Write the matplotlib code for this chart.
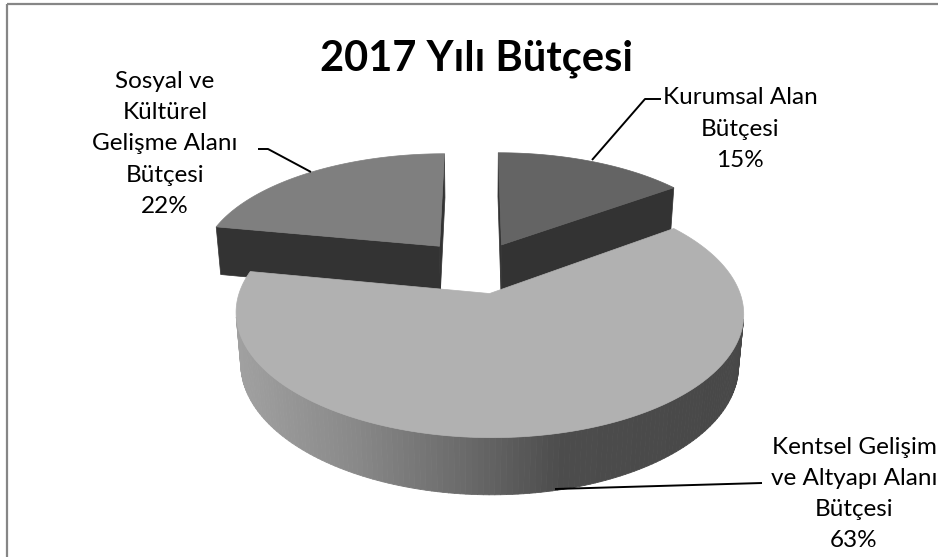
import numpy as np
import matplotlib.pyplot as plt
from matplotlib.patches import Polygon, Rectangle
from matplotlib.collections import PolyCollection

plt.rcParams['font.family'] = ['Lato', 'DejaVu Sans']

# slices, clockwise from 12 o'clock
names = ['Kurumsal Alan\nBütçesi',
         'Kentsel Gelişim\nve Altyapı Alanı\nBütçesi',
         'Sosyal ve\nKültürel\nGelişme Alanı\nBütçesi']
shares = [15, 63, 22]

top_colors = ['#646464', '#b1b1b1', '#7f7f7f']
cut_color = '#333333'
explode = [0.23, 0.23, 0.25]

# label / leader line placement (pixels)
label_xy = [(740, 129), (854, 494), (165, 144)]
leaders = [[(661, 99), (645, 99), (592, 160)],
           [(762, 483), (555, 489)],
           [(258, 149), (268, 149), (311, 172)]]

# fake 3d camera
alpha = np.radians(28.4)
s, c = np.sin(alpha), np.cos(alpha)
D, f, kx = 5.8, 1442.0, 0.955
h = 0.223
X0, Y0 = 477, 317
cam = np.array([0.0, -D * c, D * s])


def proj(u, v, z):
    u, v, z = np.asarray(u, float), np.asarray(v, float), np.asarray(z, float)
    dep = D + v * c - z * s
    return X0 + kx * f * u / dep, Y0 - f * (v * s + z * c) / dep


def side_grey(x):
    # horizontal shading on the rim
    g = np.interp(x, [236, 350, 470, 560, 743], [0.63, 0.54, 0.41, 0.30, 0.28])
    return (g, g, g)


def visible(p, n):
    return np.dot(cam - p, n) > 0


fig, ax = plt.subplots(figsize=(9.38, 5.57), dpi=100)
ax.set_position([0, 0, 1, 1])
ax.set_xlim(0, 938)
ax.set_ylim(557, 0)
ax.axis('off')

cum = np.concatenate([[0], np.cumsum(shares)])
slices = []
for i, sh in enumerate(shares):
    a = np.radians(90 - 3.6 * cum[i])
    b = np.radians(90 - 3.6 * cum[i + 1])
    m = (a + b) / 2
    ou, ov = explode[i] * np.cos(m), explode[i] * np.sin(m)
    slices.append((i, a, b, ou, ov))

# far slices first
for i, a, b, ou, ov in sorted(slices, key=lambda t: -t[4]):
    th = np.linspace(a, b, 200)
    u = ou + np.cos(th)
    v = ov + np.sin(th)

    # outer rim
    polys, cols = [], []
    for j in range(len(th) - 1):
        tm = (th[j] + th[j + 1]) / 2
        p = np.array([ou + np.cos(tm), ov + np.sin(tm), h / 2])
        if not visible(p, np.array([np.cos(tm), np.sin(tm), 0])):
            continue
        xt, yt = proj(u[j:j + 2], v[j:j + 2], [h, h])
        xb, yb = proj(u[j:j + 2], v[j:j + 2], [0, 0])
        polys.append([(xt[0], yt[0]), (xt[1], yt[1]), (xb[1], yb[1]), (xb[0], yb[0])])
        cols.append(side_grey(xt.mean()))
    if polys:
        ax.add_collection(PolyCollection(polys, facecolors=cols, edgecolors=cols,
                                         linewidths=0.6, antialiased=True))

    # cut faces
    for ang, n in [(a, np.array([-np.sin(a), np.cos(a), 0])),
                   (b, np.array([np.sin(b), -np.cos(b), 0]))]:
        p = np.array([ou + 0.5 * np.cos(ang), ov + 0.5 * np.sin(ang), h / 2])
        if not visible(p, n):
            continue
        uu = [ou, ou + np.cos(ang), ou + np.cos(ang), ou]
        vv = [ov, ov + np.sin(ang), ov + np.sin(ang), ov]
        zz = [h, h, 0, 0]
        x, y = proj(uu, vv, zz)
        ax.add_patch(Polygon(np.column_stack([x, y]), closed=True,
                             facecolor=cut_color, edgecolor=cut_color, lw=0.5))

    # top face
    x, y = proj(np.concatenate([[ou], u]), np.concatenate([[ov], v]), np.full(len(u) + 1, h))
    ax.add_patch(Polygon(np.column_stack([x, y]), closed=True,
                         facecolor=top_colors[i], edgecolor=top_colors[i], lw=0.5))

# labels
for name, sh, (lx, ly), pts in zip(names, shares, label_xy, leaders):
    ax.text(lx, ly, f'{name}\n{sh}%', ha='center', va='center', fontsize=17.5,
            linespacing=1.6, color='black')
    px, py = zip(*pts)
    ax.plot(px, py, color='black', lw=1.4, solid_capstyle='butt')

ax.text(477, 70, '2017 Yılı Bütçesi', ha='center', va='baseline',
        fontsize=30, fontweight='bold')

ax.add_patch(Rectangle((7, 4), 980, 620, fill=False, edgecolor='#868686', lw=1.6))

fig.savefig('out.png', dpi=100)
